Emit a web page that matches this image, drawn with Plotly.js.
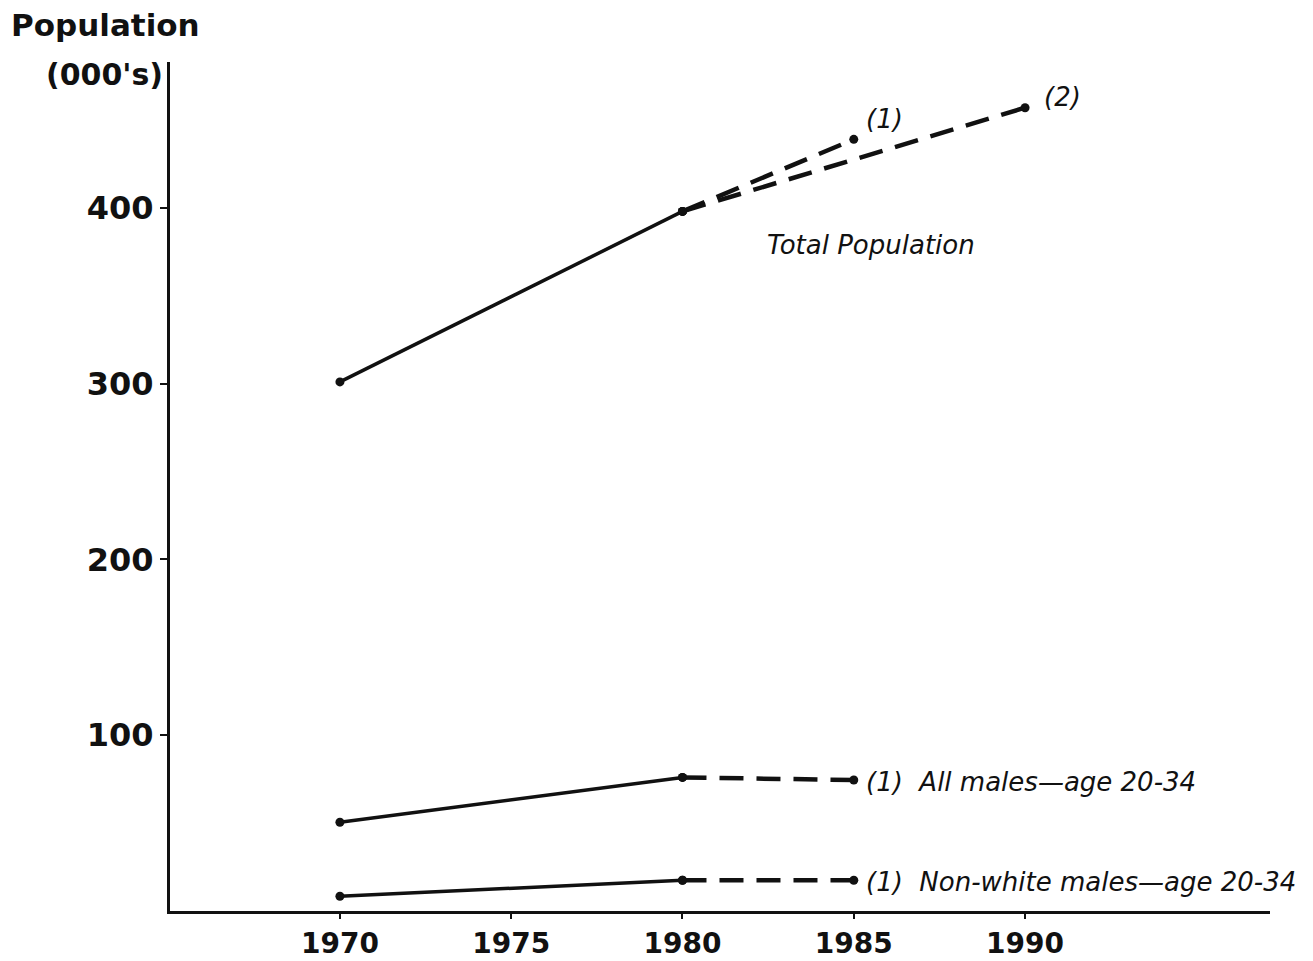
<!DOCTYPE html>
<html><head><meta charset="utf-8">
<script src="https://cdn.plot.ly/plotly-3.0.1.min.js"></script>
<style>html,body{margin:0;padding:0;background:#fff}#c{width:1313px;height:961px}</style>
</head><body><div id="c"></div>
<script>
const yearsHist = [1970, 1980];
const totalHist = [301, 398];
const totalProj1Years = [1980, 1985];
const totalProj1 = [398, 439];
const totalProj2Years = [1980, 1990];
const totalProj2 = [398, 457];
const malesHist = [50.5, 76];
const malesProjYears = [1980, 1985];
const malesProj = [76, 74.5];
const nonWhiteHist = [8.4, 17.5];
const nonWhiteProj = [17.5, 17.5];
const xTicks = [1970, 1975, 1980, 1985, 1990];
const yTicks = [100, 200, 300, 400];

const ink = '#111';
const fam = 'DejaVu Sans, Verdana, sans-serif';
const solid = {color: ink, width: 3.5};
const dashed = {color: ink, width: 4.5, dash: '24px,13px'};
const mk = {size: 9, color: ink};
function tr(x, y, line) {
  return {x: x, y: y, mode: 'lines+markers', line: line, marker: mk, hoverinfo: 'skip', showlegend: false};
}
const data = [
  tr(yearsHist, totalHist, solid),
  tr(totalProj1Years, totalProj1, dashed),
  tr(totalProj2Years, totalProj2, dashed),
  tr(yearsHist, malesHist, solid),
  tr(malesProjYears, malesProj, dashed),
  tr(yearsHist, nonWhiteHist, solid),
  tr(malesProjYears, nonWhiteProj, dashed)
];
const lab = {family: fam, size: 26, color: ink, style: 'italic'};
const layout = {
  width: 1313, height: 961,
  margin: {l: 170, r: 43, t: 62, b: 50},
  paper_bgcolor: '#fff', plot_bgcolor: '#fff',
  xaxis: {range: [1965.04, 1997.15], tickvals: xTicks, ticktext: xTicks.map(String),
    showgrid: false, zeroline: false, showline: true, linewidth: 3, linecolor: ink,
    ticks: 'outside', ticklen: 5, tickwidth: 2, tickcolor: ink,
    tickfont: {family: fam, size: 28, color: ink, weight: 700}},
  yaxis: {range: [0, 483], tickvals: yTicks, ticktext: yTicks.map(String),
    showgrid: false, zeroline: false, showline: true, linewidth: 3, linecolor: ink,
    ticks: 'outside', ticklen: 7, tickwidth: 2, tickcolor: ink,
    tickfont: {family: fam, size: 32, color: ink, weight: 700}},
  annotations: [
    {xref: 'paper', yref: 'paper', x: -0.146, y: 1.043, xanchor: 'left', yanchor: 'middle', showarrow: false,
      text: '<b>Population</b>', font: {family: fam, size: 31, color: ink}},
    {xref: 'paper', yref: 'paper', x: -0.005, y: 0.985, xanchor: 'right', yanchor: 'middle', showarrow: false,
      text: "<b>(000's)</b>", font: {family: fam, size: 30, color: ink}},
    {x: 1985.3, y: 441, xanchor: 'left', yanchor: 'bottom', showarrow: false, text: '(1)', font: lab},
    {x: 1990.5, y: 453.5, xanchor: 'left', yanchor: 'bottom', showarrow: false, text: '(2)', font: lab},
    {x: 1985.5, y: 379, xanchor: 'center', yanchor: 'middle', showarrow: false, text: 'Total Population', font: lab},
    {x: 1985.3, y: 73.5, xanchor: 'left', yanchor: 'middle', showarrow: false, text: '(1)  All males\u2014age 20-34', font: lab},
    {x: 1985.3, y: 16.5, xanchor: 'left', yanchor: 'middle', showarrow: false, text: '(1)  Non-white males\u2014age 20-34', font: lab}
  ]
};
Plotly.newPlot('c', data, layout, {displayModeBar: false, staticPlot: true});
</script></body></html>
